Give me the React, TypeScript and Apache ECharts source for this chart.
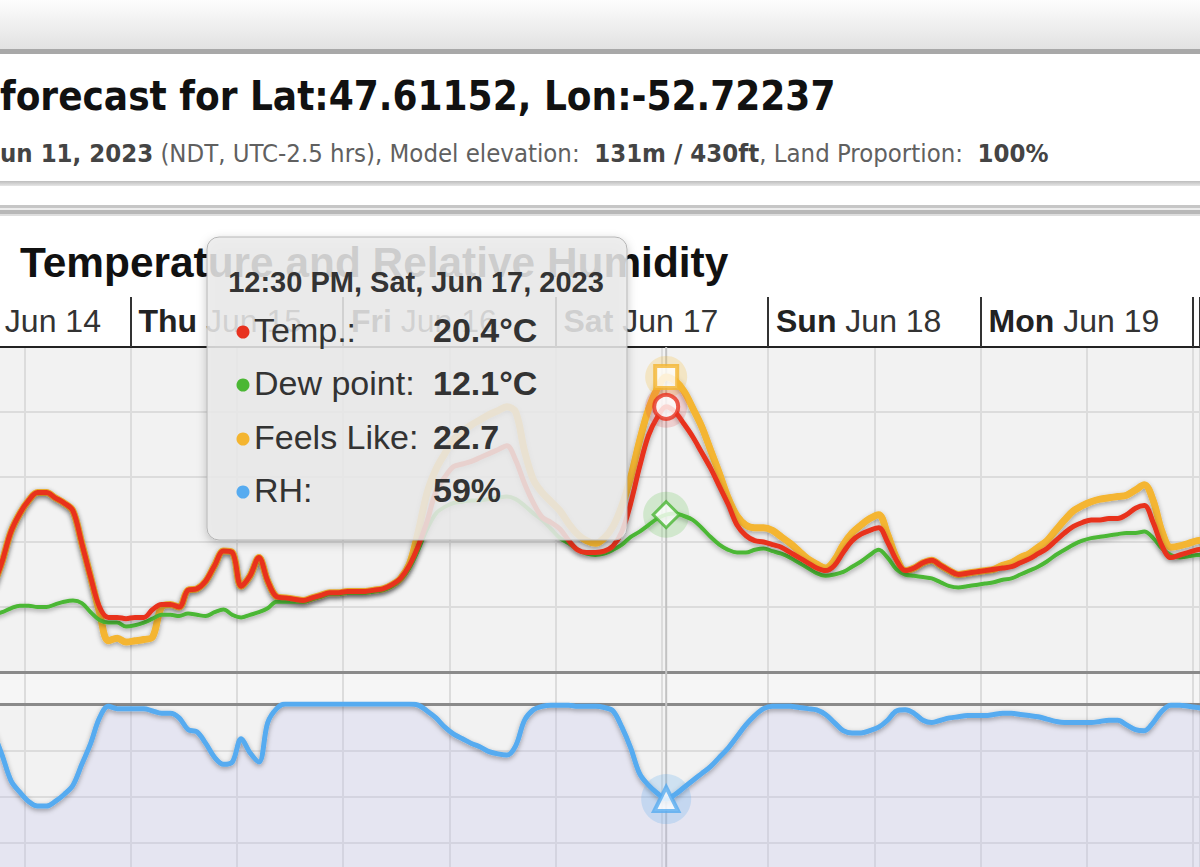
import React, { useEffect, useRef } from "react";
import * as echarts from "echarts";

// ---- data (hours since Wed Jun 14 2023 00:00 NDT) ----
const hours = [
  8.5, 9.5, 10.5, 11.5, 12.5, 13.5, 14.5, 15.5, 16.5, 17.5,
  18.5, 19.5, 20.5, 21.5, 22.5, 23.5, 24.5, 25.5, 26.5, 27.5,
  28.5, 29.5, 30.5, 31.5, 32.5, 33.5, 34.5, 35.5, 36.5, 37.5,
  38.5, 39.5, 40.5, 41.5, 42.5, 43.5, 44.5, 45.5, 46.5, 47.5,
  48.5, 49.5, 50.5, 51.5, 52.5, 53.5, 54.5, 55.5, 56.5, 57.5,
  58.5, 59.5, 60.5, 61.5, 62.5, 63.5, 64.5, 65.5, 66.5, 67.5,
  68.5, 69.5, 70.5, 71.5, 72.5, 73.5, 74.5, 75.5, 76.5, 77.5,
  78.5, 79.5, 80.5, 81.5, 82.5, 83.5, 84.5, 85.5, 86.5, 87.5,
  88.5, 89.5, 90.5, 91.5, 92.5, 93.5, 94.5, 95.5, 96.5, 97.5,
  98.5, 99.5, 100.5, 101.5, 102.5, 103.5, 104.5, 105.5, 106.5, 107.5,
  108.5, 109.5, 110.5, 111.5, 112.5, 113.5, 114.5, 115.5, 116.5, 117.5,
  118.5, 119.5, 120.5, 121.5, 122.5, 123.5, 124.5, 125.5, 126.5, 127.5,
  128.5, 129.5, 130.5, 131.5, 132.5, 133.5, 134.5, 135.5, 136.5, 137.5,
  138.5, 139.5, 140.5, 141.5, 142.5, 143.5, 144.5, 145.5,
];

const temperature = [
  6.6, 8.5, 10.8, 12.2, 13.2, 13.8, 13.8, 13.4, 13.0, 12.4,
  9.9, 7.3, 5.0, 4.2, 4.2, 4.1, 4.2, 4.2, 4.8, 5.2,
  5.2, 5.0, 6.3, 6.4, 7.0, 8.2, 9.3, 9.2, 6.6, 7.4,
  8.8, 7.0, 5.8, 5.7, 5.6, 5.5, 5.7, 5.9, 6.1, 6.1,
  6.2, 6.2, 6.2, 6.3, 6.4, 6.7, 7.2, 8.2, 9.7, 11.6,
  13.9, 15.0, 15.8, 16.0, 16.2, 16.5, 16.8, 17.1, 17.4, 16.3,
  14.5, 13.0, 11.9, 11.5, 11.0, 10.1, 9.4, 9.2, 9.2, 9.3,
  9.7, 10.8, 13.0, 15.8, 18.2, 19.6, 20.4, 20.0, 19.1, 18.1,
  16.9, 15.7, 14.3, 12.9, 11.3, 10.5, 10.1, 10.0, 9.8, 9.6,
  9.2, 8.8, 8.4, 8.0, 7.8, 8.2, 9.2, 10.1, 10.6, 10.9,
  11.1, 10.0, 8.6, 7.8, 8.0, 8.4, 8.6, 8.2, 7.8, 7.5,
  7.6, 7.7, 7.8, 7.9, 8.0, 8.1, 8.4, 8.7, 9.1, 9.5,
  10.1, 10.7, 11.2, 11.5, 11.7, 11.7, 11.8, 11.8, 12.1, 12.6,
  12.8, 11.5, 9.7, 8.8, 9.0, 9.2, 9.4, 9.5,
];

const dewPoint = [
  4.4, 4.6, 4.9, 5.1, 5.1, 5.0, 5.0, 5.2, 5.4, 5.5,
  5.3, 4.6, 4.0, 3.8, 3.8, 3.5, 3.6, 3.8, 4.1, 4.4,
  4.4, 4.3, 4.5, 4.4, 4.3, 4.6, 4.8, 4.4, 4.2, 4.4,
  4.6, 4.9, 5.4, 5.4, 5.4, 5.4, 5.6, 5.8, 6.0, 6.0,
  6.1, 6.1, 6.1, 6.2, 6.3, 6.6, 7.1, 8.0, 9.4, 11.0,
  12.2, 12.7, 13.0, 13.1, 13.2, 13.2, 13.3, 13.4, 13.5, 13.3,
  12.8, 12.2, 11.7, 11.0, 10.3, 9.9, 9.4, 9.1, 9.0, 9.1,
  9.4, 9.8, 10.4, 10.8, 11.3, 11.8, 12.1, 12.2, 12.0, 11.7,
  11.1, 10.4, 9.8, 9.4, 9.2, 9.2, 9.4, 9.5, 9.3, 9.1,
  8.8, 8.4, 8.0, 7.6, 7.4, 7.5, 7.7, 8.1, 8.5, 9.0,
  9.4, 8.8, 7.9, 7.5, 7.4, 7.3, 7.2, 6.9, 6.6, 6.5,
  6.6, 6.7, 6.8, 6.9, 7.1, 7.2, 7.5, 7.8, 8.1, 8.5,
  9.0, 9.4, 9.8, 10.1, 10.3, 10.4, 10.5, 10.6, 10.7, 10.7,
  10.8, 10.3, 9.5, 9.0, 8.8, 8.9, 9.0, 9.0,
];

const feelsLike = [
  6.6, 8.5, 10.8, 12.2, 13.2, 13.8, 13.8, 13.4, 13.0, 12.4,
  9.9, 7.3, 4.6, 2.4, 2.6, 2.3, 2.4, 2.5, 2.7, 5.0,
  5.2, 5.0, 6.3, 6.4, 7.0, 8.2, 9.3, 9.2, 6.6, 7.4,
  8.8, 7.0, 5.8, 5.7, 5.6, 5.5, 5.7, 5.9, 6.1, 6.1,
  6.2, 6.2, 6.2, 6.3, 6.4, 6.7, 7.2, 8.3, 10.8, 13.8,
  15.6, 16.8, 17.9, 18.5, 19.0, 19.4, 19.8, 20.1, 20.4, 20.0,
  17.0, 14.8, 13.8, 13.1, 12.4, 11.4, 10.6, 10.1, 9.9, 10.3,
  11.2, 12.8, 15.0, 17.8, 20.2, 21.8, 22.7, 22.4, 21.6, 20.3,
  18.9, 17.1, 15.3, 13.4, 12.0, 11.3, 11.1, 11.1, 10.9, 10.4,
  9.9, 9.3, 8.7, 8.3, 8.0, 8.6, 9.8, 10.7, 11.3, 11.8,
  12.1, 10.6, 8.8, 7.8, 8.0, 8.4, 8.6, 8.2, 7.8, 7.5,
  7.6, 7.7, 7.8, 7.9, 8.2, 8.4, 8.8, 9.1, 9.6, 10.1,
  10.9, 11.7, 12.4, 12.8, 13.1, 13.3, 13.4, 13.5, 13.6, 14.0,
  14.4, 13.2, 10.8, 9.6, 9.7, 9.9, 10.1, 10.2,
];

const relHumidity = [
  88, 78, 67, 62, 58, 56, 56, 58, 61, 65,
  74, 83, 94, 99, 98, 98, 98, 98, 97, 96,
  96, 94, 89, 88, 83, 77, 74, 75, 85, 79,
  75, 92, 98, 100, 100, 100, 100, 100, 100, 100,
  100, 100, 100, 100, 100, 100, 100, 100, 99.5, 97,
  94, 90, 87, 85, 83, 81.5, 79.5, 78.5, 78, 82,
  93, 97.5, 99, 99.5, 99.5, 99.5, 99, 99, 99, 98.5,
  97, 90, 81, 70, 65, 61.5, 59, 61, 64, 67,
  70, 73, 77, 81, 86, 91, 95, 98, 99, 99,
  99, 98.5, 98, 97.5, 95.5, 92, 88.5, 87.5, 87.5, 88.5,
  90, 93, 97, 97.5, 96, 93, 92, 93, 94, 94.5,
  95, 95, 95, 95.5, 96, 96, 95.5, 95, 94.5, 93.5,
  92.5, 92, 92, 92, 92, 92.5, 93, 93, 91, 89,
  88.5, 92, 97, 99.5, 99.5, 99, 98.5, 98,
];

// day labels visible in the cropped header row (Wed's name is outside the crop)
const dayNames = ["Wed", "Thu", "Fri", "Sat", "Sun", "Mon"];
const dayDates = ["Jun 14", "Jun 15", "Jun 16", "Jun 17", "Jun 18", "Jun 19"];
const hoverHour = 84.5;
const hoverLabel = "12:30 PM, Sat, Jun 17, 2023";

const pageTitle = "forecast for Lat:47.61152, Lon:-52.72237";
const chartTitle = "Temperature and Relative Humidity";

// ---- style / layout ----
// The chart canvas starts 82px left of the window (the reference is a crop).
const OX = 82;
const CHART_W = 1200 + OX;
const XMAX = 144.79;
const FONT = '"Liberation Sans", Arial, Helvetica, sans-serif';
const COND = '"DejaVu Sans Condensed", "DejaVu Sans", sans-serif';
const C_TEMP = "#e8321f";
const C_DEW = "#4bb734";
const C_FEELS = "#f4b530";
const C_RH = "#56abf0";
const GRIDLINE = "#dcdcdc";

const pair = (arr: number[]) => hours.map((h, i) => [h, arr[i]]);

export default function App() {
  const ref = useRef<HTMLDivElement>(null);

  useEffect(() => {
    document.body.style.margin = "0";
    document.body.style.overflow = "hidden";
    const chart = echarts.init(ref.current!, null, { renderer: "svg" });
    const hi = hours.indexOf(hoverHour);
    const lineShadow = { shadowColor: "rgba(0,0,0,0.35)", shadowBlur: 5, shadowOffsetY: 2 };
    const gridBase = { left: 0, right: 0, show: true, borderWidth: 0, containLabel: false, outerBoundsMode: "none" };

    const option: any = {
      animation: false,
      backgroundColor: "#ffffff",
      grid: [
        { ...gridBase, top: 347, height: 325, backgroundColor: "#f2f2f2" },
        { ...gridBase, top: 704, height: 232, backgroundColor: "#f2f2f2" },
        { ...gridBase, top: 672, height: 32, backgroundColor: "#f6f6f6" },
      ],
      xAxis: [
        {
          type: "value", gridIndex: 0, position: "top", min: 0, max: XMAX, interval: 24,
          axisLine: { show: true, onZero: false, lineStyle: { color: "#222", width: 2 } },
          axisTick: { show: true, length: 50, lineStyle: { color: "#333", width: 2 } },
          splitLine: { show: false },
          axisLabel: {
            show: true, margin: 10, align: "left", showMaxLabel: true, hideOverlap: false,
            formatter: (v: number) => {
              const i = Math.round(v / 24);
              if (i >= dayNames.length) return "";
              const dStyle = i === 0 ? "d0" : "d";
              return `{${dStyle}|${dayNames[i]}}{t| ${dayDates[i]}}`;
            },
            rich: {
              d0: { fontFamily: FONT, fontWeight: "bold", fontSize: 32, color: "#222", padding: [0, 0, 0, 11] },
              d: { fontFamily: FONT, fontWeight: "bold", fontSize: 32, color: "#222", padding: [0, 0, 0, 8] },
              t: { fontFamily: FONT, fontSize: 32, color: "#333" },
            },
          },
        },
        {
          type: "value", gridIndex: 0, position: "bottom", min: 0, max: XMAX, interval: 12,
          axisLine: { show: true, onZero: false, lineStyle: { color: "#8a8a8a", width: 3 } },
          axisTick: { show: false }, axisLabel: { show: false },
          splitLine: { show: true, lineStyle: { color: GRIDLINE, width: 2 } },
        },
        {
          type: "value", gridIndex: 1, position: "top", min: 0, max: XMAX, interval: 12,
          axisLine: { show: true, onZero: false, lineStyle: { color: "#8a8a8a", width: 3 } },
          axisTick: { show: false }, axisLabel: { show: false },
          splitLine: { show: true, lineStyle: { color: GRIDLINE, width: 2 } },
        },
        {
          type: "value", gridIndex: 2, min: 0, max: XMAX, interval: 12,
          axisLine: { show: false }, axisTick: { show: false }, axisLabel: { show: false },
          splitLine: { show: true, lineStyle: { color: GRIDLINE, width: 2 } },
        },
      ],
      yAxis: [
        {
          type: "value", gridIndex: 0, min: 0, max: 25, interval: 5,
          axisLine: { show: false }, axisTick: { show: false }, axisLabel: { show: false },
          splitLine: { show: true, lineStyle: { color: GRIDLINE, width: 2 } },
        },
        {
          type: "value", gridIndex: 1, min: 0, max: 100, interval: 20,
          axisLine: { show: false }, axisTick: { show: false }, axisLabel: { show: false },
          splitLine: { show: true, lineStyle: { color: GRIDLINE, width: 2 } },
        },
        {
          type: "value", gridIndex: 2, min: 0, max: 1,
          axisLine: { show: false }, axisTick: { show: false }, axisLabel: { show: false },
          splitLine: { show: false },
        },
      ],
      series: [
        {
          type: "line", name: "Feels Like", xAxisIndex: 1, yAxisIndex: 0, data: pair(feelsLike),
          showSymbol: false, smooth: 0.35, z: 2, silent: true,
          lineStyle: { color: C_FEELS, width: 7, ...lineShadow },
        },
        {
          type: "line", name: "Dew point", xAxisIndex: 1, yAxisIndex: 0, data: pair(dewPoint),
          showSymbol: false, smooth: 0.35, z: 2, silent: true,
          lineStyle: { color: C_DEW, width: 4, ...lineShadow },
        },
        {
          type: "line", name: "Temp.", xAxisIndex: 1, yAxisIndex: 0, data: pair(temperature),
          showSymbol: false, smooth: 0.35, z: 2, silent: true,
          lineStyle: { color: C_TEMP, width: 5, ...lineShadow },
        },
        {
          type: "line", name: "RH", xAxisIndex: 2, yAxisIndex: 1, data: pair(relHumidity),
          showSymbol: false, smooth: 0.35, z: 2, silent: true,
          lineStyle: { color: C_RH, width: 5, ...lineShadow },
          areaStyle: { color: "rgba(185,185,240,0.3)", origin: "start" },
        },
        // hover halos
        { type: "scatter", xAxisIndex: 1, yAxisIndex: 0, silent: true, z: 3, data: [[hoverHour, feelsLike[hi]]], symbol: "circle", symbolSize: 42, itemStyle: { color: "rgba(245,190,50,0.3)" } },
        { type: "scatter", xAxisIndex: 1, yAxisIndex: 0, silent: true, z: 3, data: [[hoverHour, temperature[hi]]], symbol: "circle", symbolSize: 42, itemStyle: { color: "rgba(225,70,70,0.25)" } },
        { type: "scatter", xAxisIndex: 1, yAxisIndex: 0, silent: true, z: 3, data: [[hoverHour, dewPoint[hi]]], symbol: "circle", symbolSize: 46, itemStyle: { color: "rgba(80,190,60,0.25)" } },
        { type: "scatter", xAxisIndex: 2, yAxisIndex: 1, silent: true, z: 3, data: [[hoverHour, relHumidity[hi]]], symbol: "circle", symbolSize: 50, itemStyle: { color: "rgba(90,170,240,0.3)" } },
        // hover markers
        { type: "scatter", xAxisIndex: 1, yAxisIndex: 0, silent: true, z: 4, data: [[hoverHour, feelsLike[hi]]], symbol: "rect", symbolSize: 22, itemStyle: { color: "#fff", borderColor: C_FEELS, borderWidth: 4 } },
        { type: "scatter", xAxisIndex: 1, yAxisIndex: 0, silent: true, z: 4, data: [[hoverHour, temperature[hi]]], symbol: "circle", symbolSize: 24, itemStyle: { color: "#fff", borderColor: C_TEMP, borderWidth: 4 } },
        { type: "scatter", xAxisIndex: 1, yAxisIndex: 0, silent: true, z: 4, data: [[hoverHour, dewPoint[hi]]], symbol: "diamond", symbolSize: 26, itemStyle: { color: "#fff", borderColor: C_DEW, borderWidth: 3 } },
        { type: "scatter", xAxisIndex: 2, yAxisIndex: 1, silent: true, z: 4, data: [[hoverHour, relHumidity[hi]]], symbol: "triangle", symbolSize: 24, itemStyle: { color: "#fff", borderColor: C_RH, borderWidth: 4 } },
      ],
    };
    chart.setOption(option);

    const hx = chart.convertToPixel({ xAxisIndex: 1 }, hoverHour) as number;

    const rows = [
      { label: "Temp.:", value: `${temperature[hi].toFixed(1)}°C`, color: C_TEMP, y: 330 },
      { label: "Dew point:", value: `${dewPoint[hi].toFixed(1)}°C`, color: C_DEW, y: 383 },
      { label: "Feels Like:", value: `${feelsLike[hi].toFixed(1)}`, color: C_FEELS, y: 437 },
      { label: "RH:", value: `${Math.round(relHumidity[hi])}%`, color: C_RH, y: 490 },
    ];

    const W = CHART_W;
    const graphics: any[] = [
      // page header chrome
      { type: "rect", z: 0, shape: { x: 0, y: 0, width: W, height: 49 }, style: { fill: { type: "linear", x: 0, y: 0, x2: 0, y2: 1, colorStops: [{ offset: 0, color: "#fdfdfd" }, { offset: 1, color: "#e2e2e2" }] } } },
      { type: "rect", z: 0, shape: { x: 0, y: 49, width: W, height: 5 }, style: { fill: "#a8a8a8" } },
      { type: "rect", z: 0, shape: { x: 0, y: 181, width: W, height: 5 }, style: { fill: { type: "linear", x: 0, y: 0, x2: 0, y2: 1, colorStops: [{ offset: 0, color: "#bdbdbd" }, { offset: 1, color: "#e6e6e6" }] } } },
      { type: "rect", z: 0, shape: { x: 0, y: 205, width: W, height: 3 }, style: { fill: "#c6c6c6" } },
      { type: "rect", z: 0, shape: { x: 0, y: 208, width: W, height: 2 }, style: { fill: "#ececec" } },
      { type: "rect", z: 0, shape: { x: 0, y: 210, width: W, height: 4 }, style: { fill: "#b8b8b8" } },
      { type: "rect", z: 0, shape: { x: 0, y: 214, width: W, height: 2 }, style: { fill: "#dedede" } },
      {
        type: "text", z: 1, x: OX, y: 96,
        style: { text: pageTitle, fontFamily: COND, fontWeight: "bold", fontSize: 40, fill: "#111", verticalAlign: "middle" },
      },
      {
        type: "text", z: 1, x: OX, y: 153,
        style: {
          text: "{b|un 11, 2023}{n| (NDT, UTC-2.5 hrs), Model elevation:  }{b|131m / 430ft}{n|, Land Proportion:  }{b|100%}",
          verticalAlign: "middle",
          rich: {
            b: { fontFamily: COND, fontWeight: "bold", fontSize: 25.5, fill: "#444" },
            n: { fontFamily: COND, fontSize: 25.5, fill: "#606060" },
          },
        },
      },
      {
        type: "text", z: 1, x: OX + 20, y: 262,
        style: { text: chartTitle, fontFamily: FONT, fontWeight: "bold", fontSize: 42.4, fill: "#111", verticalAlign: "middle" },
      },
      // hover crosshair
      { type: "line", z: 1, silent: true, shape: { x1: hx, y1: 347, x2: hx, y2: 867 }, style: { stroke: "#c2c2c2", lineWidth: 2 } },
      // tooltip box
      {
        type: "rect", z: 100, shape: { x: OX + 207, y: 237, width: 420, height: 303, r: 12 },
        style: { fill: "rgba(236,236,236,0.84)", stroke: "rgba(175,175,175,0.9)", lineWidth: 1, shadowBlur: 10, shadowColor: "rgba(0,0,0,0.25)", shadowOffsetY: 3 },
      },
      {
        type: "text", z: 101, x: OX + 416, y: 282,
        style: { text: hoverLabel, fontFamily: FONT, fontWeight: "bold", fontSize: 29, fill: "#333", align: "center", verticalAlign: "middle" },
      },
    ];
    rows.forEach((r) => {
      graphics.push({ type: "circle", z: 101, shape: { cx: OX + 243, cy: r.y + 2, r: 6.5 }, style: { fill: r.color } });
      graphics.push({ type: "text", z: 101, x: OX + 254, y: r.y, style: { text: r.label, fontFamily: FONT, fontSize: 34, fill: "#333", verticalAlign: "middle" } });
      graphics.push({ type: "text", z: 101, x: OX + 433, y: r.y, style: { text: r.value, fontFamily: FONT, fontWeight: "bold", fontSize: 34, fill: "#333", verticalAlign: "middle" } });
    });

    chart.setOption({ graphic: graphics });
    return () => chart.dispose();
  }, []);

  return <div ref={ref} style={{ position: "absolute", left: -OX, top: 0, width: CHART_W, height: 867 }} />;
}
